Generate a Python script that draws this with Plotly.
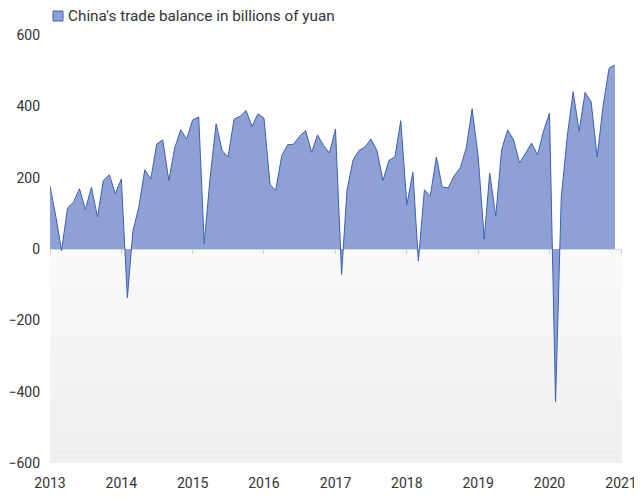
import plotly.graph_objects as go
import pandas as pd

months = pd.date_range("2013-01-01", "2020-12-01", freq="MS").strftime("%Y-%m-%d").tolist()

balance = [
    # 2013
    176, 88, -5, 115, 131, 169, 110, 173, 90, 192, 208, 155,
    # 2014
    196, -137, 50, 118, 222, 196, 294, 306, 192, 283, 334, 308,
    # 2015
    362, 370, 15, 204, 351, 276, 258, 364, 372, 388, 344, 379,
    # 2016
    367, 180, 165, 262, 292, 294, 316, 332, 271, 320, 290, 269,
    # 2017
    336, -71, 166, 250, 276, 286, 308, 276, 192, 248, 258, 360,
    # 2018
    124, 215, -34, 166, 148, 258, 174, 171, 206, 227, 283, 393,
    # 2019
    260, 28, 213, 92, 278, 334, 306, 241, 269, 297, 264, 330,
    # 2020
    381, -428, 143, 316, 441, 330, 439, 413, 258, 400, 507, 516,
]

series_name = "China's trade balance in billions of yuan"
y_ticks = [-600, -400, -200, 0, 200, 400, 600]
x_ticks = [f"{y}-01-01" for y in range(2013, 2022)]
x_labels = [str(y) for y in range(2013, 2022)]

FILL = "#8fa0d4"
LINE = "#3a60b6"
TEXT = "#333333"
FONT = "Roboto"

# page body has an 8px default margin; size the figure to fit inside the window
OFF = 8
W, H = 632, 484
ML, MR, MT, MB = 42, 18, 0, 29
PLOT_H = 428
pw = W - ML - MR
ph = H - MT - MB
DOM_TOP = PLOT_H / ph

fig = go.Figure()

fig.add_trace(go.Scatter(
    x=months, y=balance, mode="lines", fill="tozeroy",
    fillcolor=FILL, line=dict(color=LINE, width=1),
    name=series_name, showlegend=False, hoverinfo="x+y",
))

# gradient background below zero
x0, x1 = "2013-01-01", "2021-01-06"
n = 30
shapes = []
for i in range(n):
    t = i / (n - 1)
    g = int(round(249 - (249 - 239) * t))
    shapes.append(dict(
        type="rect", xref="x", yref="y", x0=x0, x1=x1,
        y0=-600 * i / n, y1=-600 * (i + 1) / n,
        fillcolor=f"rgb({g},{g},{g})", line=dict(width=0), layer="below",
    ))

def px(xp):
    return (xp - OFF - ML) / pw
def py(yp):
    return (H - MB - (yp - OFF)) / ph

# legend swatch and label
shapes.append(dict(
    type="rect", xref="paper", yref="paper",
    x0=px(53), x1=px(63), y0=py(21), y1=py(11),
    fillcolor=FILL, line=dict(color=LINE, width=1),
))

annotations = [dict(
    xref="paper", yref="paper", x=px(66), y=py(16),
    xanchor="left", yanchor="middle", showarrow=False,
    text=series_name, font=dict(family=FONT, size=15.3, color=TEXT),
)]

fig.update_layout(
    width=W, height=H,
    margin=dict(l=ML, r=MR, t=MT, b=MB, autoexpand=False),
    paper_bgcolor="white", plot_bgcolor="white",
    font=dict(family=FONT, size=14, color=TEXT),
    shapes=shapes, annotations=annotations,
    showlegend=False,
    xaxis=dict(
        type="date", range=[x0, x1],
        tickvals=x_ticks, ticktext=x_labels,
        showgrid=False, zeroline=False, showline=False,
        ticks="", tickfont=dict(size=14, color=TEXT),
        ticklabelstandoff=10, automargin=False, ticklabeloverflow="allow",
    ),
    xaxis2=dict(
        type="date", range=[x0, x1], overlaying="x",
        anchor="free", position=DOM_TOP / 2, side="bottom",
        tickvals=x_ticks, showticklabels=False,
        ticks="outside", ticklen=4, tickcolor="#cccccc",
        showgrid=False, zeroline=False, showline=False, automargin=False,
    ),
    yaxis=dict(
        domain=[0, DOM_TOP],
        range=[-600, 600], tickvals=y_ticks,
        showgrid=False, zeroline=True, zerolinecolor="#d6d6d6", zerolinewidth=1,
        showline=False, ticks="", ticklabelstandoff=9,
        tickfont=dict(size=14, color=TEXT), automargin=False,
        ticklabeloverflow="allow",
    ),
)

# dummy trace to activate xaxis2 ticks
fig.add_trace(go.Scatter(x=[x0], y=[None], xaxis="x2", showlegend=False, hoverinfo="skip"))

fig.write_html("out.html")
